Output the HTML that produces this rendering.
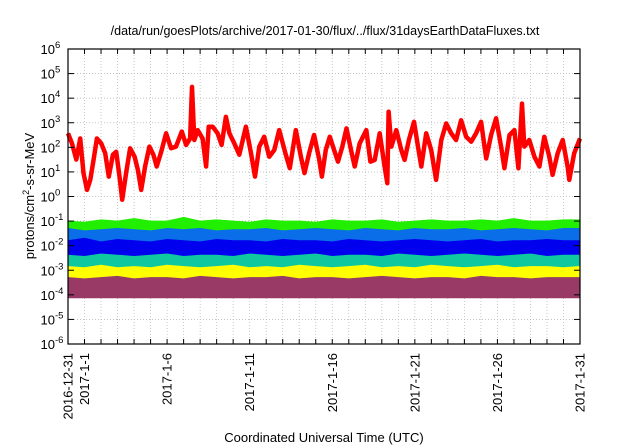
<!DOCTYPE html>
<html><head><meta charset="utf-8"><style>
html,body{margin:0;padding:0;background:#fff;}
svg{display:block;font-family:"Liberation Sans",sans-serif;}
</style></head><body>
<svg id="chart" width="640" height="448" viewBox="0 0 640 448" xmlns="http://www.w3.org/2000/svg">
<rect width="640" height="448" fill="#fff"/>
<text x="325" y="35" font-size="12.5" text-anchor="middle" fill="#000">/data/run/goesPlots/archive/2017-01-30/flux/../flux/31daysEarthDataFluxes.txt</text>
<text transform="translate(34,196) rotate(-90)" font-size="13" text-anchor="middle" fill="#000">protons/cm<tspan font-size="9" dy="-5">2</tspan><tspan dy="5">-s-sr-MeV</tspan></text>
<text x="324" y="442" font-size="13" text-anchor="middle" fill="#000">Coordinated Universal Time (UTC)</text>
<g id="grid"></g>
<g id="series"></g>
<g id="axes"></g>
</svg>
<script>
// ---- data ----
const xTickDays = [0, 1, 6, 11, 16, 21, 26, 31];
const xTickLabels = ["2016-12-31", "2017-1-1", "2017-1-6", "2017-1-11", "2017-1-16", "2017-1-21", "2017-1-26", "2017-1-31"];
const yTickExps = [-6, -5, -4, -3, -2, -1, 0, 1, 2, 3, 4, 5, 6];
const redDays = [0,0.24,0.5,0.74,0.94,1.15,1.35,1.55,1.75,2.01,2.25,2.47,2.72,2.92,3.12,3.28,3.52,3.76,4.03,4.23,4.43,4.67,4.93,5.17,5.37,5.64,5.94,6.24,6.54,6.89,7.15,7.39,7.51,7.65,7.85,8.15,8.36,8.52,8.76,9.06,9.3,9.56,9.77,10.07,10.37,10.77,11.08,11.32,11.58,11.88,12.18,12.49,12.79,13.19,13.43,13.79,14.1,14.32,14.6,14.9,15.2,15.37,15.61,15.85,16.15,16.35,16.61,16.86,17.16,17.36,17.66,18.06,18.31,18.57,18.87,19.17,19.33,19.41,19.58,19.88,20.18,20.38,20.64,20.95,21.19,21.39,21.69,21.99,22.29,22.6,22.9,23.2,23.5,23.8,24.11,24.41,24.71,25.01,25.22,25.32,25.62,25.92,26.22,26.42,26.73,27.03,27.27,27.49,27.63,27.93,28.24,28.54,28.84,29.14,29.34,29.65,29.95,30.25,30.35,30.65,31];
const redLog = [2.57,2.16,1.5,2.36,0.95,0.27,0.68,1.5,2.36,2.16,1.76,0.81,1.7,1.82,0.81,-0.13,0.95,1.96,1.62,1.08,0.27,1.22,2.03,1.7,1.22,1.82,2.57,1.96,2.03,2.64,2.1,2.36,4.46,2.3,2.7,2.36,1.22,2.84,2.84,2.57,2.1,3.24,2.57,2.16,1.7,2.84,1.76,0.81,2.03,2.43,1.62,1.89,2.7,1.7,1.15,2.7,1.62,0.95,1.76,2.5,1.55,0.81,1.9,2.43,1.82,1.42,2.03,2.77,1.82,1.22,2.16,2.7,1.42,1.49,2.57,1.22,0.54,3.45,2.03,2.7,1.89,1.49,2.3,3.04,2.03,1.22,2.57,1.89,0.68,2.3,2.97,2.57,2.3,3.1,2.43,2.23,2.57,3.04,2.03,1.55,2.5,3.18,2.03,1.15,2.5,2.7,1.15,3.78,2.03,2.3,1.62,1.22,2.43,1.62,0.88,1.76,2.3,1.22,0.68,1.76,2.36];
const bandDays = [0,1,2,3,4,5,6,7,8,9,10,11,12,13,14,15,16,17,18,19,20,21,22,23,24,25,26,27,28,29,30,31];
const greenTop = [-1.0,-1.05,-0.95,-1.0,-0.9,-1.0,-1.0,-0.85,-1.0,-0.95,-1.0,-1.05,-0.95,-1.0,-1.0,-1.05,-0.95,-1.0,-1.0,-0.95,-1.05,-1.0,-0.95,-1.0,-1.0,-0.95,-1.0,-0.9,-1.0,-1.0,-0.95,-0.95];
const lightBlueTop = [-1.3,-1.4,-1.35,-1.3,-1.35,-1.4,-1.3,-1.35,-1.3,-1.4,-1.35,-1.35,-1.3,-1.4,-1.35,-1.3,-1.35,-1.4,-1.3,-1.35,-1.4,-1.3,-1.35,-1.35,-1.3,-1.4,-1.35,-1.3,-1.35,-1.4,-1.3,-1.3];
const darkBlueTop = [-1.8,-1.7,-1.85,-1.75,-1.8,-1.85,-1.75,-1.8,-1.85,-1.75,-1.8,-1.8,-1.85,-1.75,-1.8,-1.8,-1.85,-1.75,-1.8,-1.85,-1.8,-1.75,-1.8,-1.85,-1.8,-1.75,-1.85,-1.8,-1.8,-1.75,-1.8,-1.8];
const darkBlueBottom = [-2.35,-2.4,-2.3,-2.35,-2.4,-2.35,-2.3,-2.4,-2.35,-2.35,-2.4,-2.3,-2.35,-2.4,-2.35,-2.3,-2.4,-2.35,-2.35,-2.4,-2.3,-2.35,-2.4,-2.35,-2.3,-2.35,-2.4,-2.35,-2.3,-2.4,-2.35,-2.35];
const yellowTop = [-2.85,-2.9,-2.8,-2.9,-2.85,-2.9,-2.8,-2.85,-2.9,-2.85,-2.8,-2.9,-2.85,-2.9,-2.8,-2.85,-2.9,-2.85,-2.8,-2.9,-2.85,-2.9,-2.8,-2.85,-2.9,-2.85,-2.8,-2.9,-2.85,-2.85,-2.9,-2.85];
const purpleTop = [-3.3,-3.35,-3.3,-3.25,-3.35,-3.3,-3.3,-3.35,-3.25,-3.3,-3.35,-3.3,-3.3,-3.25,-3.35,-3.3,-3.3,-3.35,-3.3,-3.25,-3.3,-3.35,-3.3,-3.3,-3.35,-3.25,-3.3,-3.3,-3.35,-3.3,-3.3,-3.3];
const purpleBottom = [-4.12,-4.12,-4.12,-4.12,-4.12,-4.12,-4.12,-4.12,-4.12,-4.12,-4.12,-4.12,-4.12,-4.12,-4.12,-4.12,-4.12,-4.12,-4.12,-4.12,-4.12,-4.12,-4.12,-4.12,-4.12,-4.12,-4.12,-4.12,-4.12,-4.12,-4.12,-4.12];

// ---- layout ----
const L = 68, R = 580, T = 49, B = 344;
const NS = "http://www.w3.org/2000/svg";
function xs(d){ return L + (R - L) * d / 31; }
function ys(e){ return B - (B - T) * (e + 6) / 12; }
function mk(tag, attrs, parent){ const el = document.createElementNS(NS, tag); for (const k in attrs) el.setAttribute(k, attrs[k]); parent.appendChild(el); return el; }
const grid = document.getElementById('grid'), series = document.getElementById('series'), axes = document.getElementById('axes');

for (let d = 1; d < 31; d++) {
  const g = mk('line', {x1: xs(d), x2: xs(d), y1: T, y2: B, stroke: '#bbb', 'stroke-width': 0.8, 'stroke-dasharray': '1,2'}, grid);
  
  
}
yTickExps.forEach(e => {
  if (e > -6 && e < 6) {
    const g = mk('line', {x1: L, x2: R, y1: ys(e), y2: ys(e), stroke: '#bbb', 'stroke-width': 0.8, 'stroke-dasharray': '1,2'}, grid);
    
    
  }
});

function band(top, bottom, color, name){
  let d = '';
  bandDays.forEach((day, i) => { d += (i ? 'L' : 'M') + xs(day).toFixed(1) + ',' + ys(top[i]).toFixed(1); });
  for (let i = bandDays.length - 1; i >= 0; i--) d += 'L' + xs(bandDays[i]).toFixed(1) + ',' + ys(bottom[i]).toFixed(1);
  const p = mk('path', {d: d + 'Z', fill: color, stroke: color, 'stroke-width': 1}, series);
  
  
}
const lightBlueBottom = darkBlueBottom.map(v => v - 0.1);
const tealTop = darkBlueBottom.map(v => v + 0.1);
band(greenTop, lightBlueTop.map(v => v - 0.2), '#22ee00', 'series-green');
band(lightBlueTop, lightBlueBottom, '#0a6ee8', 'series-light-blue');
band(tealTop, yellowTop.map(v => v - 0.2), '#10c8a0', 'series-teal');
band(darkBlueTop, darkBlueBottom, '#0000ee', 'series-dark-blue');
band(yellowTop, purpleTop.map(v => v - 0.2), '#ffff00', 'series-yellow');
band(purpleTop, purpleBottom, '#993a66', 'series-purple');

let rd = '';
redDays.forEach((day, i) => { rd += (i ? 'L' : 'M') + xs(day).toFixed(1) + ',' + ys(redLog[i]).toFixed(1); });
const red = mk('path', {d: rd, fill: 'none', stroke: '#ff0000', 'stroke-width': 4.5, 'stroke-linejoin': 'round'}, series);



const frame = mk('rect', {x: L, y: T, width: R - L, height: B - T, fill: 'none', stroke: '#000', 'stroke-width': 1.2}, axes);



yTickExps.forEach(e => {
  mk('line', {x1: L, x2: L + 6, y1: ys(e), y2: ys(e), stroke: '#000'}, axes);
  mk('line', {x1: R, x2: R - 6, y1: ys(e), y2: ys(e), stroke: '#000'}, axes);
  const t = mk('text', {x: L - 13, y: ys(e) + 5, 'font-size': 13, 'text-anchor': 'end', fill: '#000'}, axes);
  
  
  t.textContent = '10';
  const s = mk('tspan', {x: L - 13, dy: -6, 'font-size': 9.5, 'text-anchor': 'start'}, t);
  s.textContent = String(e);
});
for (let d = 0; d <= 31; d++) {
  mk('line', {x1: xs(d), x2: xs(d), y1: B, y2: B - 5, stroke: '#000'}, axes);
  mk('line', {x1: xs(d), x2: xs(d), y1: T, y2: T + 5, stroke: '#000'}, axes);
}
xTickDays.forEach((d, i) => {
  const x = xs(d) + 4.5;
  const t = mk('text', {transform: 'translate(' + x + ',' + (B + 9) + ') rotate(-90)', 'font-size': 13, 'text-anchor': 'end', fill: '#000'}, axes);
  
  
  t.textContent = xTickLabels[i];
});
</script>
</body></html>
